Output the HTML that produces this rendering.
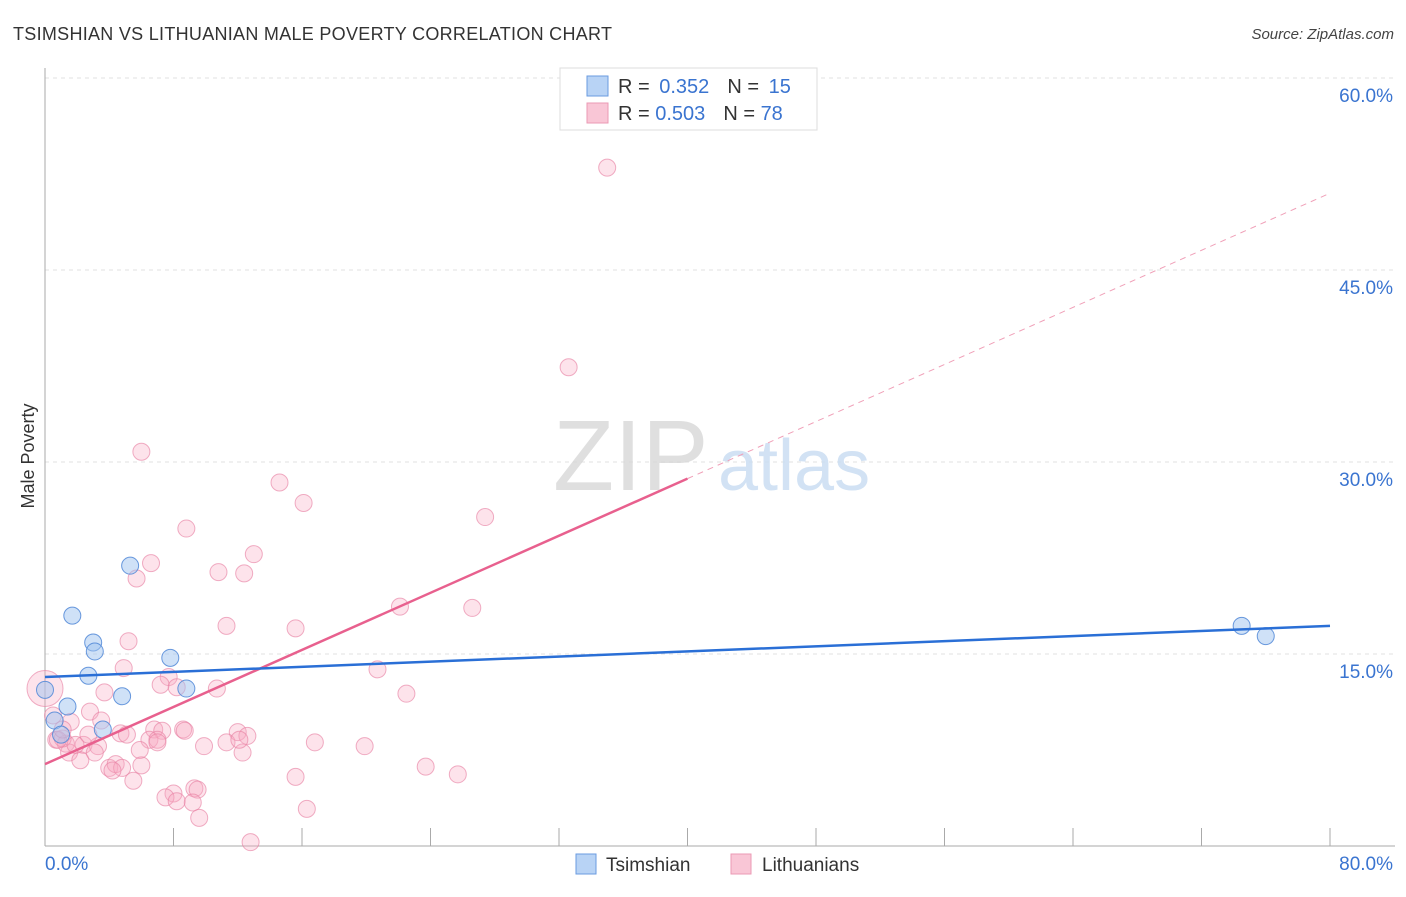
<!DOCTYPE html>
<html><head><meta charset="utf-8"><style>
body{margin:0;background:#fff;font-family:"Liberation Sans",sans-serif}
svg text{font-family:"Liberation Sans",sans-serif}
</style></head><body>
<svg id="chart" width="1406" height="892" viewBox="0 0 1406 892">
<text x="13" y="40" font-size="18" fill="#333" textLength="599">TSIMSHIAN VS LITHUANIAN MALE POVERTY CORRELATION CHART</text>
<text x="1394" y="39" font-size="15" fill="#444" text-anchor="end" font-style="italic">Source: ZipAtlas.com</text>
<text transform="translate(34,456) rotate(-90)" font-size="18" fill="#333" text-anchor="middle">Male Poverty</text>
<g id="grid"></g>
<g><text x="553" y="490" font-size="100" fill="#d8d8d8" font-family="Liberation Serif" opacity="0.8">ZIP</text><text x="718" y="490" font-size="72" fill="#c8dcf2" opacity="0.8">atlas</text></g>
<g id="marks"></g>
<g>
<rect x="560" y="68" width="257" height="62" fill="#fff" stroke="#ddd"/>
<rect x="587" y="76" width="21" height="20" fill="#b8d3f5" stroke="#6a9be0"/>
<text x="618" y="93" font-size="20" fill="#333">R = <tspan fill="#3a74d0">&#8201;0.352</tspan><tspan dx="18">N = </tspan><tspan fill="#3a74d0">&#8201;15</tspan></text>
<rect x="587" y="103" width="21" height="20" fill="#f9c6d6" stroke="#eb9ab4"/>
<text x="618" y="120" font-size="20" fill="#333">R = <tspan fill="#3a74d0">0.503</tspan><tspan dx="18">N = </tspan><tspan fill="#3a74d0">78</tspan></text>
</g>
<g>
<rect x="576" y="854" width="20" height="20" fill="#b8d3f5" stroke="#6a9be0"/>
<text x="606" y="871" font-size="19" fill="#333">Tsimshian</text>
<rect x="731" y="854" width="20" height="20" fill="#f9c6d6" stroke="#eb9ab4"/>
<text x="762" y="871" font-size="19" fill="#333">Lithuanians</text>
</g>
</svg>
<script>
const xTicks=[0,80];
const yTicks=[15,30,45,60];
const blueX=[0,0.6,1.4,1.0,3.6,1.7,3.0,3.1,2.7,5.3,4.8,7.8,8.8,74.5,76.0];
const blueY=[12.2,9.8,10.9,8.7,9.1,18.0,15.9,15.2,13.3,21.9,11.7,14.7,12.3,17.2,16.4];
const pinkX=[35.0,32.6,6.0,27.4,14.6,16.1,8.8,13.0,6.6,5.7,10.8,12.4,22.1,26.6,11.3,15.6,5.2,4.9,7.7,20.7,7.2,8.2,10.7,22.5,3.7,2.8,3.5,0.5,1.6,0.7,1.3,2.4,3.3,4.7,5.1,1.5,2.2,3.1,6.8,7.3,6.5,7.0,8.6,12.0,12.6,11.3,9.9,5.9,4.0,4.4,4.8,6.0,5.5,12.3,16.8,19.9,15.6,23.7,25.7,9.3,9.5,8.0,7.5,8.2,9.2,16.3,9.6,12.8,0,1.1,0.8,1.9,4.2,7.0,8.7,2.7,1.1,12.1];
const pinkY=[53.0,37.4,30.8,25.7,28.4,26.8,24.8,22.8,22.1,20.9,21.4,21.3,18.7,18.6,17.2,17.0,16.0,13.9,13.2,13.8,12.6,12.4,12.3,11.9,12.0,10.5,9.8,10.2,9.7,8.3,8.0,7.9,7.8,8.8,8.7,7.3,6.7,7.3,9.1,9.0,8.3,8.3,9.1,8.9,8.6,8.1,7.8,7.5,6.1,6.4,6.1,6.3,5.1,7.3,8.1,7.8,5.4,6.2,5.6,4.5,4.4,4.1,3.8,3.5,3.4,2.9,2.2,0.3,12.3,8.4,8.3,7.9,5.9,8.1,9.0,8.7,9.1,8.3];
const blueTrend=[13.2,17.2];
const pinkTrend=[6.4,51.0];
const pinkSolidEnd=40;
const X=v=>45+v/80*1285, Y=v=>846-v/15*192;
const NS='http://www.w3.org/2000/svg';
const grid=document.getElementById('grid'), marks=document.getElementById('marks');
function mk(tag,a,p){const e=document.createElementNS(NS,tag);for(const k in a)e.setAttribute(k,a[k]);p.appendChild(e);return e;}
yTicks.forEach(t=>{
 const l=mk('line',{x1:45,x2:1395,y1:Y(t),y2:Y(t),stroke:'#e2e2e2','stroke-dasharray':'4,4'},grid);
 
 
 const tx=mk('text',{x:1393,y:Y(t)+24,'font-size':19,fill:'#3a74d0','text-anchor':'end'},grid);tx.textContent=t.toFixed(1)+'%';
 
 
});
mk('line',{x1:45,x2:45,y1:68,y2:846,stroke:'#aaa'},grid);
mk('line',{x1:45,x2:1395,y1:846,y2:846,stroke:'#aaa'},grid);
for(let i=1;i<=10;i++){const x=X(i*8);mk('line',{x1:x,x2:x,y1:828,y2:846,stroke:'#aaa'},grid);}
xTicks.forEach((t,i)=>{const tx=mk('text',{x:i?1393:45,y:870,'font-size':19,fill:'#3a74d0','text-anchor':i?'end':'start'},grid);tx.textContent=t.toFixed(1)+'%';
 
 });
pinkX.forEach((v,i)=>{const c=mk('circle',{cx:X(v),cy:Y(pinkY[i]),r:(i==68?18:8.5),fill:'rgba(248,170,195,0.33)',stroke:'rgba(232,130,165,0.65)','stroke-width':1},marks);
 
 });
blueX.forEach((v,i)=>{const c=mk('circle',{cx:X(v),cy:Y(blueY[i]),r:8.5,fill:'rgba(160,196,240,0.5)',stroke:'rgba(80,135,215,0.85)','stroke-width':1},marks);
 
 });
const pt=x=>pinkTrend[0]+(pinkTrend[1]-pinkTrend[0])*x/80;
const l1=mk('line',{x1:X(0),y1:Y(pinkTrend[0]),x2:X(pinkSolidEnd),y2:Y(pt(pinkSolidEnd)),stroke:'#e8608e','stroke-width':2.5},marks);


const l2=mk('line',{x1:X(pinkSolidEnd),y1:Y(pt(pinkSolidEnd)),x2:X(80),y2:Y(pinkTrend[1]),stroke:'#f0a0b8','stroke-width':1,'stroke-dasharray':'6,5'},marks);


const l3=mk('line',{x1:X(0),y1:Y(blueTrend[0]),x2:X(80),y2:Y(blueTrend[1]),stroke:'#2a6fd6','stroke-width':2.5},marks);


</script>
</body></html>
